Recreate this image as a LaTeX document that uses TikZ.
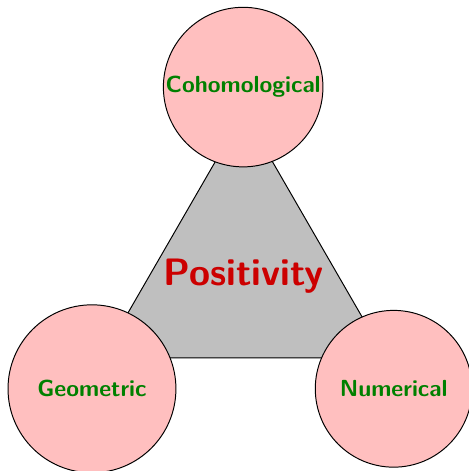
\documentclass[tikz,border=0pt]{standalone}

\begin{document}
\begin{tikzpicture}[
  tri/.style={draw, fill=black!25},
  kind/.style={draw, circle, fill=red!25, inner sep=0pt, outer sep=0pt,
               font=\fontsize{9.5}{11}\sffamily\bfseries, text=green!50!black}]
\useasboundingbox (-3.50,-2.80) rectangle (3.23,3.96);
% triangle corners
\coordinate (t1) at (90:2.35);
\coordinate (t2) at (210:2.35);
\coordinate (t3) at (330:2.35);
\path[tri] (t1) -- (t2) -- (t3) -- cycle;
\node[font=\fontsize{15.6}{18}\sffamily\bfseries, text=red!80!black] (pos) at (0,0) {Positivity};
\node[kind, minimum size=2.29cm] (coh) at (-0.01,2.71)  {Cohomological};
\node[kind, minimum size=2.41cm] (geo) at (-2.18,-1.62) {Geometric};
\node[kind, minimum size=2.25cm] (num) at (2.15,-1.62)  {Numerical};
\end{tikzpicture}
\end{document}
